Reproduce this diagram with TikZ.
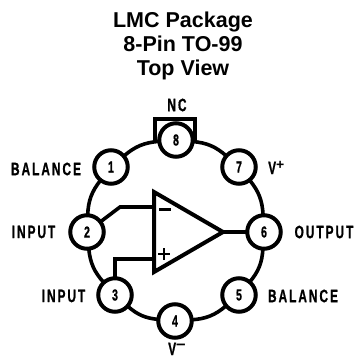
\documentclass[tikz,border=0pt]{standalone}
\usepackage{fontspec}
\setmainfont{Liberation Sans}
\newfontfamily\labfont[FakeStretch=0.66,LetterSpace=11,FakeBold=0.8]{Liberation Sans Bold}
\newcommand{\supplus}{\raisebox{4.5pt}{\normalfont\bfseries\fontsize{14}{14}\selectfont +}}
\newcommand{\supminus}{\raisebox{6pt}{\normalfont\bfseries\fontsize{17}{17}\selectfont –}}
\tikzset{
  pin/.style={circle,draw=black,line width=4pt,fill=white,minimum size=33.5pt,inner sep=0pt,outer sep=0pt,font=\labfont\fontsize{16}{16}\selectfont},
  wire/.style={line width=3.6pt,draw=black},
  lab/.style={inner sep=0pt,font=\labfont\fontsize{18}{18}\selectfont},
  ttl/.style={inner sep=0pt,anchor=base,font=\bfseries\fontsize{21.5}{21.5}\selectfont}
}
\begin{document}
\begin{tikzpicture}[x=1pt,y=-1pt]
\useasboundingbox (0,0) rectangle (356,358);
\node[ttl] (t1) at (183,28) {LMC Package};
\node[ttl] (t2) at (183,52) {8-Pin TO-99};
\node[ttl] (t3) at (183,76) {Top View};
\coordinate (sa) at (155,143);
\coordinate (sb) at (155,119);
\coordinate (sc) at (195,119);
\coordinate (sd) at (195,143);
\draw[line width=3.4pt] (sa) -- (sb) -- (sc) -- (sd);
\node[pin] (p8) at (176,140) {8};
\node[pin] (p1) at (111,167) {1};
\node[pin] (p2) at (87,232) {2};
\node[pin] (p3) at (115,295) {3};
\node[pin] (p4) at (175,321) {4};
\node[pin] (p5) at (239,295) {5};
\node[pin] (p6) at (264,232) {6};
\node[pin] (p7) at (239,167) {7};
\draw[wire] (p8) to[bend right=18] (p1);
\draw[wire] (p1) to[bend right=18] (p2);
\draw[wire] (p2) to[bend right=18] (p3);
\draw[wire] (p3) to[bend right=18] (p4);
\draw[wire] (p4) to[bend right=18] (p5);
\draw[wire] (p5) to[bend right=18] (p6);
\draw[wire] (p6) to[bend right=18] (p7);
\draw[wire] (p7) to[bend right=18] (p8);
\coordinate (ta) at (154,192);
\coordinate (tb) at (154,272);
\coordinate (tc) at (223,232);
\coordinate (in1) at (154,207);
\coordinate (k1) at (120,207);
\coordinate (in2) at (154,259);
\coordinate (k2) at (115,259);
\draw[line width=4pt,line join=miter] (ta) -- (tc) -- (tb) -- cycle;
\draw[wire] (tc) -- (p6);
\draw[wire] (p2) -- (k1) -- (in1);
\draw[wire] (p3) -- (k2) -- (in2);
\draw[line width=2.6pt] (159,209.5) -- (171,209.5);
\draw[line width=2.6pt] (158,254) -- (170,254) (164,248) -- (164,260);
\node[lab] (l1) at (46,169) {BALANCE};
\node[lab] (l2) at (33.5,232) {INPUT};
\node[lab] (l3) at (63.5,296) {INPUT};
\node[lab] (l5) at (303,296) {BALANCE};
\node[lab] (l6) at (324,232) {OUTPUT};
\node[lab,anchor=base west] (l7) at (268,174) {V\supplus};
\node[lab,anchor=base west] (l4) at (168,355) {V\supminus};
\node[lab] (l8) at (177,105) {NC};
\end{tikzpicture}
\end{document}
